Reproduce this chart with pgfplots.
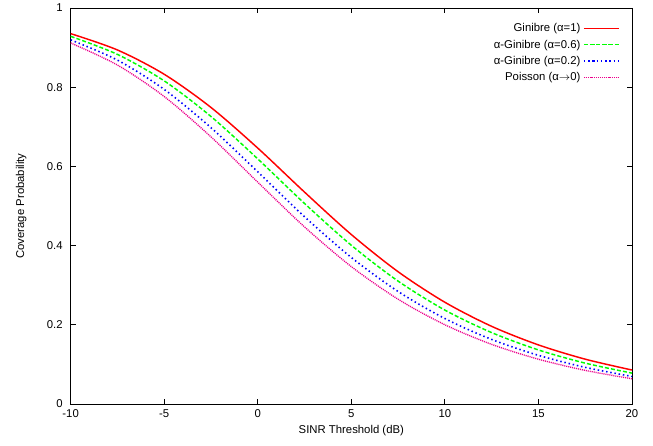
\documentclass[border=0pt]{standalone}
\usepackage{pgfplots}
\pgfplotsset{compat=1.18}
\usepackage{fontspec}
\setmainfont{Liberation Sans}
\begin{document}
\fontsize{8.5}{10}\selectfont
\begin{tikzpicture}
\begin{axis}[
    name=ax,
    scale only axis,
    width=421pt,
    height=297pt,
    xmin=-10, xmax=20,
    ymin=0, ymax=1,
    xtick={-10,-5,0,5,10,15,20},
    ytick={0,0.2,0.4,0.6,0.8,1},
    tick align=inside,
    major tick length=4pt,
    tick style={black, line width=0.6pt},
    axis line style={line width=0.6pt},
    /pgf/number format/assume math mode=true,
    tick label style={font=\fontsize{8.5}{10}\selectfont},
    yticklabel style={xshift=-3pt},
    xticklabel style={yshift=-1pt},
    label style={font=\fontsize{8.5}{10}\selectfont},
    xlabel={SINR Threshold (dB)},
    ylabel={Coverage Probability},
    ylabel style={at={(axis description cs:-0.088,0.5)}, anchor=center},
    legend cell align=right,
    legend plot pos=right,
    legend style={at={(rel axis cs:0.985,0.975)}, anchor=north east, draw=none, fill=none,
        font=\fontsize{8.5}{10}\selectfont, row sep=0.8pt},
    legend image code/.code={\draw[mark repeat=2,mark phase=2,#1] plot coordinates {(0pt,0pt) (13pt,0pt) (26pt,0pt)};},
]
\addplot[red, line width=1.1pt, smooth] coordinates {
(-10,0.9353) (-7.5,0.8940) (-5,0.8326) (-2.5,0.7488) (0,0.6462) (2.5,0.5350) (5,0.4279)
(7.5,0.3340) (10,0.2569) (12.5,0.1961) (15,0.1492) (17.5,0.1132) (20,0.0858)};
\addlegendentry{Ginibre (α=1)}
\addplot[green, line width=1.1pt, dash pattern=on 3pt off 1.6pt, smooth] coordinates {
(-10,0.9284) (-7.5,0.8828) (-5,0.8159) (-2.5,0.7260) (0,0.6189) (2.5,0.5063) (5,0.4008)
(7.5,0.3103) (10,0.2371) (12.5,0.1803) (15,0.1365) (17.5,0.1032) (20,0.0780)};
\addlegendentry{α-Ginibre (α=0.6)}
\addplot[blue, line width=1.2pt, dash pattern=on 1.1pt off 2.1pt, smooth] coordinates {
(-10,0.9195) (-7.5,0.8684) (-5,0.7944) (-2.5,0.6977) (0,0.5862) (2.5,0.4728) (5,0.3700)
(7.5,0.2841) (10,0.2158) (12.5,0.1630) (15,0.1229) (17.5,0.0925) (20,0.0696)};
\addlegendentry{α-Ginibre (α=0.2)}
\addplot[magenta, line width=1pt, dash pattern=on 0.8pt off 0.7pt, smooth] coordinates {
(-10,0.9117) (-7.5,0.8559) (-5,0.7764) (-2.5,0.6745) (0,0.5601) (2.5,0.4471) (5,0.3469)
(7.5,0.2646) (10,0.2001) (12.5,0.1506) (15,0.1131) (17.5,0.0849) (20,0.0637)};
\addlegendentry{Poisson (α$\rightarrow$0)}
\end{axis}
\pgfresetboundingbox
\path[use as bounding box] ([xshift=-53pt,yshift=-31.5pt]ax.south west) rectangle ([xshift=15.75pt,yshift=6pt]ax.north east);
\end{tikzpicture}
\end{document}
